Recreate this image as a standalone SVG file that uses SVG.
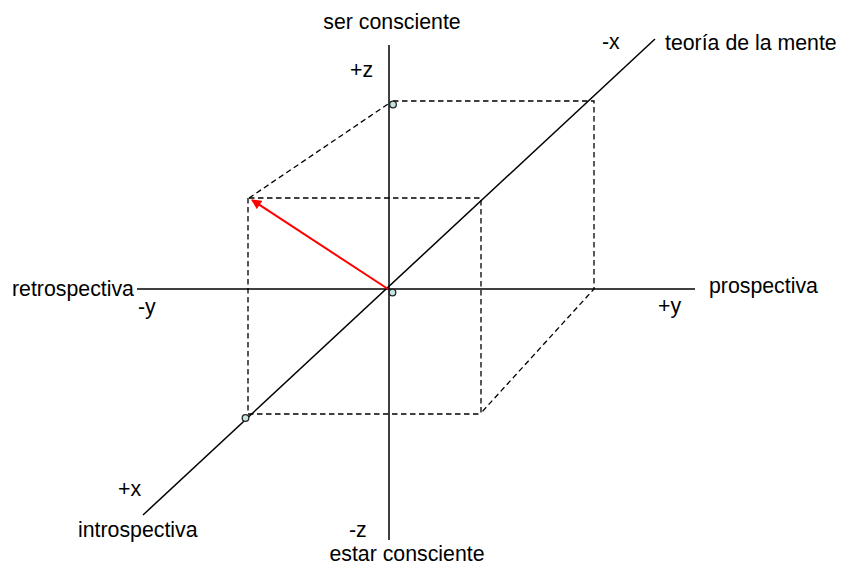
<svg xmlns="http://www.w3.org/2000/svg" width="843" height="566" viewBox="0 0 843 566">
<style>
text{font-family:"Liberation Sans",Arial,sans-serif;font-size:21.3px;fill:#000}
.ax{stroke:#000;stroke-width:1.5;fill:none}
.d{stroke:#000;stroke-width:1.3;stroke-dasharray:5.5 3.5;fill:none}
.pt{fill:#c4e4e4;stroke:#222;stroke-width:1.3}
</style>
<defs>
<marker id="ah" viewBox="0 0 10 10" refX="9" refY="5" markerWidth="5.5" markerHeight="5" orient="auto" markerUnits="strokeWidth">
<path d="M0,0 L10,5 L0,10 z" fill="#ff0000"/>
</marker>
</defs>
<rect width="843" height="566" fill="#fff"/>
<g id="connectors">
<line class="ax" x1="389" y1="45" x2="389" y2="540"/>
<line class="ax" x1="137" y1="289" x2="695" y2="289"/>
<line class="ax" x1="143" y1="515" x2="655" y2="39"/>
<path class="d" d="M249,198 L391,102"/>
<path class="d" d="M393,101 L594,101 L594,289 L481,413"/>
<path class="d" d="M249,198 L481,198 L481,413"/>
<path class="d" d="M248,198 L248,414 L481,414"/>
<line x1="388" y1="289" x2="252" y2="200" stroke="#ff0000" stroke-width="2" marker-end="url(#ah)"/>
</g>
<g id="points">
<circle class="pt" cx="393" cy="104.5" r="3.3"/>
<circle class="pt" cx="392.5" cy="292.5" r="3.3"/>
<circle class="pt" cx="245.5" cy="418" r="3.3"/>
</g>
<g id="labels">
<text x="392" y="29" text-anchor="middle">ser consciente</text>
<text x="350" y="77">+z</text>
<text x="602" y="49">-x</text>
<text x="665" y="50">teoría de la mente</text>
<text x="12" y="296">retrospectiva</text>
<text x="138" y="314">-y</text>
<text x="709" y="293">prospectiva</text>
<text x="658" y="313">+y</text>
<text x="118" y="496">+x</text>
<text x="78" y="537">introspectiva</text>
<text x="349" y="537">-z</text>
<text x="407" y="561" text-anchor="middle">estar consciente</text>
</g>
</svg>
